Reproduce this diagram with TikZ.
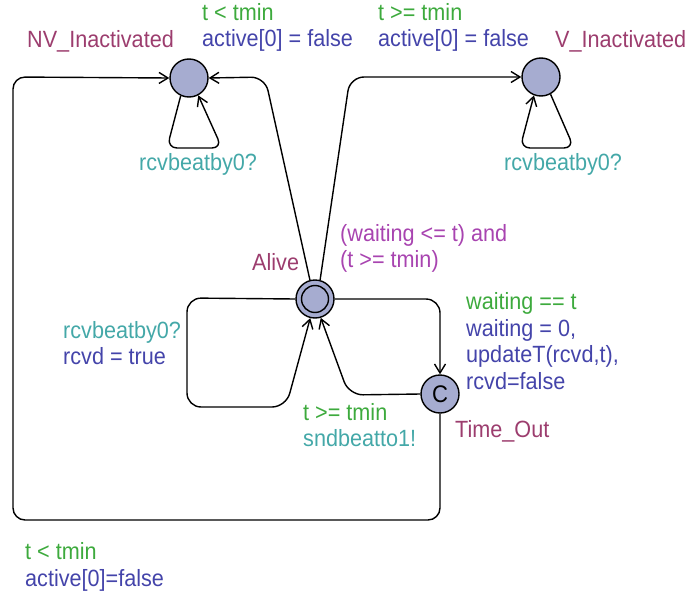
\documentclass[tikz,border=0pt]{standalone}
\usepackage{fontspec}
\setmainfont[FakeStretch=0.92]{Liberation Sans}
\usetikzlibrary{arrows.meta}
\definecolor{cname}{HTML}{9C3D6E}
\definecolor{cguard}{HTML}{3DAA3D}
\definecolor{cassign}{HTML}{4444AA}
\definecolor{cinv}{HTML}{A844B0}
\definecolor{csync}{HTML}{44A8A8}
\definecolor{cfill}{HTML}{A6ACD0}
\tikzset{
  loc/.style={circle, draw, line width=1.4pt, fill=cfill, minimum size=38pt, inner sep=0pt},
  edge/.style={line width=1.4pt, rounded corners=14pt, -{Straight Barb[length=9pt,width=11pt,line width=1.4pt]}},
  lbl/.style={anchor=base west, inner sep=0pt, font=\fontsize{23.5}{27}\selectfont},
  nm/.style={lbl, text=cname},
  gd/.style={lbl, text=cguard},
  as/.style={lbl, text=cassign},
  iv/.style={lbl, text=cinv},
  sy/.style={lbl, text=csync}
}
\begin{document}
\begin{tikzpicture}[x=1pt,y=-1pt]
\useasboundingbox (0,0) rectangle (688,594);
% locations
\node[loc] (nv) at (189,78) {};
\node[loc] (v) at (541,77) {};
\node[loc] (alive) at (315,299) {};
\draw[line width=1.4pt] (alive.center) circle (13.5pt);
\node[loc, font=\fontsize{24}{26}\selectfont] (to) at (440,394) {C};
% edges
\draw[edge] (alive.105) -- (265,77) -- (nv.east);
\draw[edge] (alive.75) -- (350,77) -- (v.west);
\draw[edge, rounded corners=10pt] (nv.245) -- (167,148) -- (222,148) -- (nv.298);
\draw[edge, rounded corners=10pt] (v.299) -- (574,148) -- (520,148) -- (v.249);
\draw[edge] (alive.west) -- (187,298) -- (187,407) -- (286,407) -- (alive.256);
\draw[edge] (alive.east) -- (440,299) -- (to.north);
\draw[edge] (to.west) -- (349,395) -- (alive.287);
\draw[edge, rounded corners=12pt] (to.south) -- (440,520) -- (13,520) -- (13,77) -- (nv.west);
% labels
\node[nm] (lnv) at (27,48) {NV\_Inactivated};
\node[nm] (lv) at (555,48) {V\_Inactivated};
\node[nm] (lalive) at (252,270) {Alive};
\node[nm] (lto) at (455,437) {Time\_Out};
\node[gd] (g1) at (202,21) {t < tmin};
\node[as] (a1) at (202,47) {active[0] = false};
\node[gd] (g2) at (378,21) {t >= tmin};
\node[as] (a2) at (378,47) {active[0] = false};
\node[sy] (s1) at (139,170) {rcvbeatby0?};
\node[sy] (s2) at (504,170) {rcvbeatby0?};
\node[iv] (i1) at (340,241) {(waiting <= t) and};
\node[iv] (i2) at (340,267) {(t >= tmin)};
\node[gd] (g3) at (466,309) {waiting == t};
\node[as] (a3) at (466,336) {waiting = 0,};
\node[as] (a4) at (466,362) {updateT(rcvd,t),};
\node[as] (a5) at (466,389) {rcvd=false};
\node[sy] (s3) at (63,338) {rcvbeatby0?};
\node[as] (a6) at (63,364) {rcvd = true};
\node[gd] (g4) at (303,420) {t >= tmin};
\node[sy] (s4) at (303,446) {sndbeatto1!};
\node[gd] (g5) at (25,559) {t < tmin};
\node[as] (a7) at (25,586) {active[0]=false};
\end{tikzpicture}
\end{document}
